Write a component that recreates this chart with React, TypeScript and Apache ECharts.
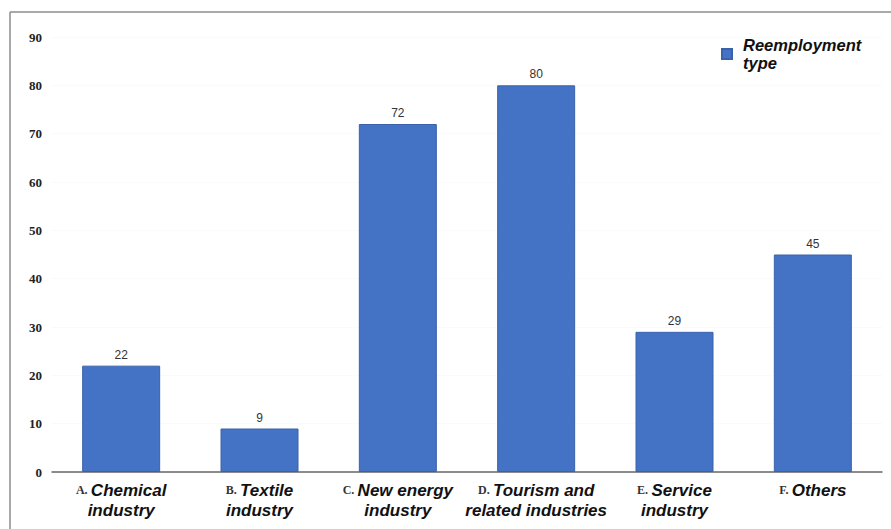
import React, { useEffect, useRef } from "react";
import * as echarts from "echarts";

const prefixes = ["A.", "B.", "C.", "D.", "E.", "F."];
const categories = [
  "Chemical\nindustry",
  "Textile\nindustry",
  "New energy\nindustry",
  "Tourism and\nrelated industries",
  "Service\nindustry",
  "Others",
];
const values = [22, 9, 72, 80, 29, 45];
const seriesName = "Reemployment\ntype";

export default function App() {
  const ref = useRef<HTMLDivElement>(null);
  useEffect(() => {
    if (!ref.current) return;
    const chart = echarts.init(ref.current, undefined, { renderer: "svg" });
    chart.setOption({
      animation: false,
      backgroundColor: "#ffffff",
      graphic: [
        {
          type: "line",
          shape: { x1: 10, y1: 12, x2: 891, y2: 12 },
          style: { stroke: "#8c8c8c", lineWidth: 1.5 },
        },
        {
          type: "line",
          shape: { x1: 10, y1: 12, x2: 10, y2: 529 },
          style: { stroke: "#8c8c8c", lineWidth: 1.5 },
        },
      ],
      legend: {
        left: 716,
        top: 31,
        itemWidth: 10,
        itemHeight: 10,
        icon: "rect",
        data: [seriesName],
        textStyle: {
          fontFamily: "Liberation Sans",
          fontStyle: "italic",
          fontWeight: "bold",
          fontSize: 16.5,
          lineHeight: 18,
          color: "#111",
          padding: [0, 0, 0, 6],
        },
      },
      grid: { left: 52, right: 9, top: 37, bottom: 57 },
      xAxis: {
        type: "category",
        data: categories.map((c, i) => prefixes[i] + "|" + c),
        axisLine: { lineStyle: { color: "#666", width: 1.5 } },
        axisTick: { show: false },
        axisLabel: {
          interval: 0,
          margin: 8,
          formatter: (v: string) => {
            const [p, rest] = v.split("|");
            const lines = rest.split("\n");
            return lines
              .map((l, i) => (i === 0 ? "{p|" + p + "} {t|" + l + "}" : "{t|" + l + "}"))
              .join("\n");
          },
          rich: {
            p: {
              fontFamily: "Liberation Serif",
              fontWeight: "bold",
              fontSize: 12,
              color: "#333",
              lineHeight: 20,
            },
            t: {
              fontFamily: "Liberation Sans",
              fontStyle: "italic",
              fontWeight: "bold",
              fontSize: 17,
              color: "#111",
              lineHeight: 20,
            },
          },
        },
      },
      yAxis: {
        type: "value",
        min: 0,
        max: 90,
        interval: 10,
        splitLine: { show: true, lineStyle: { color: "#fafafa" } },
        axisLine: { show: false },
        axisTick: { show: false },
        axisLabel: {
          margin: 10,
          fontFamily: "Liberation Serif",
          fontWeight: "bold",
          fontSize: 13,
          color: "#222",
        },
      },
      series: [
        {
          name: seriesName,
          type: "bar",
          data: values,
          barWidth: 78,
          itemStyle: { color: "#4472C4", borderColor: "#3a62ab", borderWidth: 1 },
          label: {
            show: true,
            position: "top",
            distance: 5,
            fontFamily: "Liberation Sans",
            fontSize: 12,
            color: "#333",
          },
        },
      ],
    });
    return () => chart.dispose();
  }, []);
  return <div ref={ref} style={{ width: 891, height: 529, position: "absolute", left: 0, top: 0 }} />;
}
